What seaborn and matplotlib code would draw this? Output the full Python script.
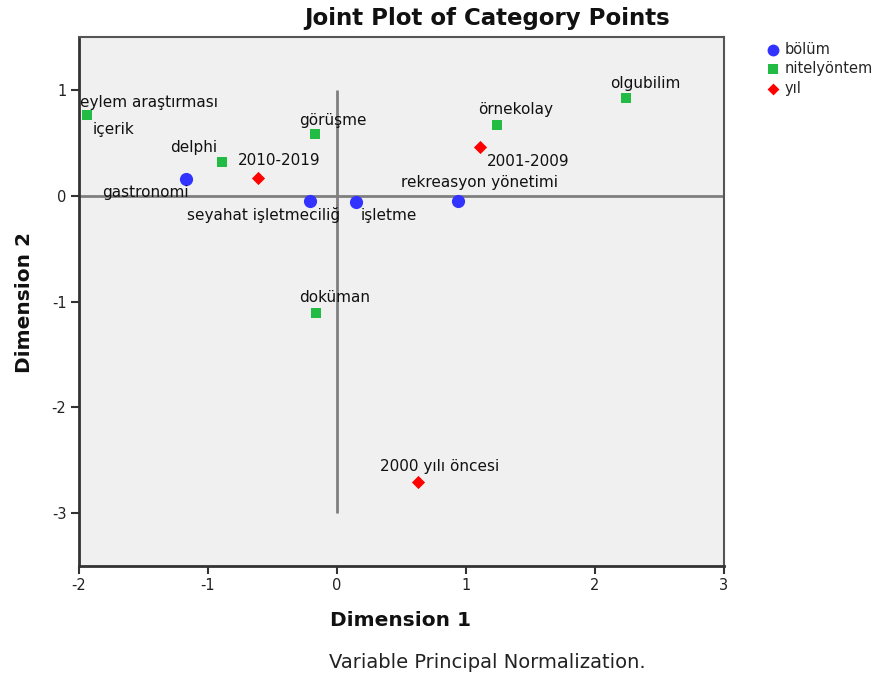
import pandas as pd
import numpy as np
import matplotlib
matplotlib.use("Agg")
import matplotlib.pyplot as plt
import seaborn as sns

##chart data
labels = ["gastronomi", "seyahat işletmeciliğ", "işletme", "rekreasyon yönetimi",
          "eylem araştırması", "içerik", "görüşme", "delphi", "örnekolay", "olgubilim", "doküman",
          "2010-2019", "2001-2009", "2000 yılı öncesi"]
groups = ["bölüm"] * 4 + ["nitelyöntem"] * 7 + ["yıl"] * 3
dim1 = [-1.17, -0.21, 0.15, 0.94,
        -1.94, -1.94, -0.17, -0.89, 1.24, 2.24, -0.16,
        -0.61, 1.11, 0.63]
dim2 = [0.16, -0.05, -0.06, -0.05,
        0.76, 0.76, 0.58, 0.32, 0.67, 0.92, -1.11,
        0.17, 0.46, -2.71]

group_order = ["bölüm", "nitelyöntem", "yıl"]
x_ticks = [-2, -1, 0, 1, 2, 3]
y_ticks = [-3, -2, -1, 0, 1]

df = pd.DataFrame({"label": labels, "group": groups, "dim1": dim1, "dim2": dim2})

##styles
colors = {"bölüm": "#3333ff", "nitelyöntem": "#22bb44", "yıl": "#ff0000"}
markers = {"bölüm": "o", "nitelyöntem": "s", "yıl": "D"}
msize = {"bölüm": 90, "nitelyöntem": 55, "yıl": 45}

# label offsets in pixels (dx, dy, ha)
offsets = {
    "gastronomi": (-41, -14, "center"),
    "seyahat işletmeciliğ": (-46, -14, "center"),
    "işletme": (32, -13, "center"),
    "rekreasyon yönetimi": (21, 18, "center"),
    "eylem araştırması": (-7, 13, "left"),
    "içerik": (6, -14, "left"),
    "görüşme": (18, 14, "center"),
    "delphi": (-29, 14, "center"),
    "örnekolay": (19, 15, "center"),
    "olgubilim": (19, 15, "center"),
    "doküman": (18, 16, "center"),
    "2010-2019": (21, 17, "center"),
    "2001-2009": (48, -14, "center"),
    "2000 yılı öncesi": (21, 16, "center"),
}

sns.set_style("white")
plt.rcParams['font.family'] = ['DejaVu Sans']
plt.rcParams['axes.unicode_minus'] = False

fig = plt.figure(figsize=(8.77, 6.75), dpi=100)
ax = fig.add_axes([79/877, 1 - 566/675, 645/877, 529/675])
ax.set_facecolor("#f0f0f0")

# reference lines
ax.hlines(0, x_ticks[0], x_ticks[-1], color="#7f7f7f", linewidth=2, zorder=1)
ax.vlines(0, y_ticks[0], y_ticks[-1], color="#7f7f7f", linewidth=2, zorder=1)

for g in group_order:
    sub = df[df["group"] == g]
    sns.scatterplot(data=sub, x="dim1", y="dim2", ax=ax, color=colors[g], marker=markers[g],
                    s=msize[g], linewidth=0, label=g, zorder=3, legend=False)

for _, row in df.iterrows():
    dx, dy, ha = offsets[row["label"]]
    ax.annotate(row["label"], (row["dim1"], row["dim2"]), xytext=(dx, dy),
                textcoords="offset pixels", ha=ha, va="center", fontsize=11, color="#111111",
                zorder=4)

ax.set_xlim(-2, 3)
ax.set_ylim(-3.5, 1.5)
ax.set_xticks(x_ticks)
ax.set_yticks(y_ticks)
ax.tick_params(axis="both", direction="out", length=6, width=1.5, color="#333333",
               labelsize=10.5, labelcolor="#222222", left=True, bottom=True, pad=3)
for side in ["left", "bottom"]:
    ax.spines[side].set_linewidth(2)
    ax.spines[side].set_color("#333333")
for side in ["top", "right"]:
    ax.spines[side].set_linewidth(1.5)
    ax.spines[side].set_color("#555555")
ax.set_xlabel("")
ax.set_ylabel("")

fig.text(487/877, 1 - 19/675, "Joint Plot of Category Points", ha="center", va="center",
         fontsize=16.5, fontweight="bold", color="#111111")
fig.text(400/877, 1 - 620/675, "Dimension 1", ha="center", va="center",
         fontsize=14.5, fontweight="bold", color="#111111")
fig.text(25/877, 1 - 302/675, "Dimension 2", ha="center", va="center", rotation=90,
         fontsize=14.5, fontweight="bold", color="#111111")
fig.text(487/877, 1 - 662/675, "Variable Principal Normalization.", ha="center", va="center",
         fontsize=14, color="#222222")

handles, leg_labels = ax.get_legend_handles_labels()
fig.legend(handles, leg_labels, loc="upper left", bbox_to_anchor=(758/877, 1 - 36/675),
           frameon=False, fontsize=10.5, handletextpad=0.2, labelspacing=0.3,
           borderaxespad=0, handlelength=1.2, markerscale=0.9)

plt.savefig("out.png", dpi=100)
